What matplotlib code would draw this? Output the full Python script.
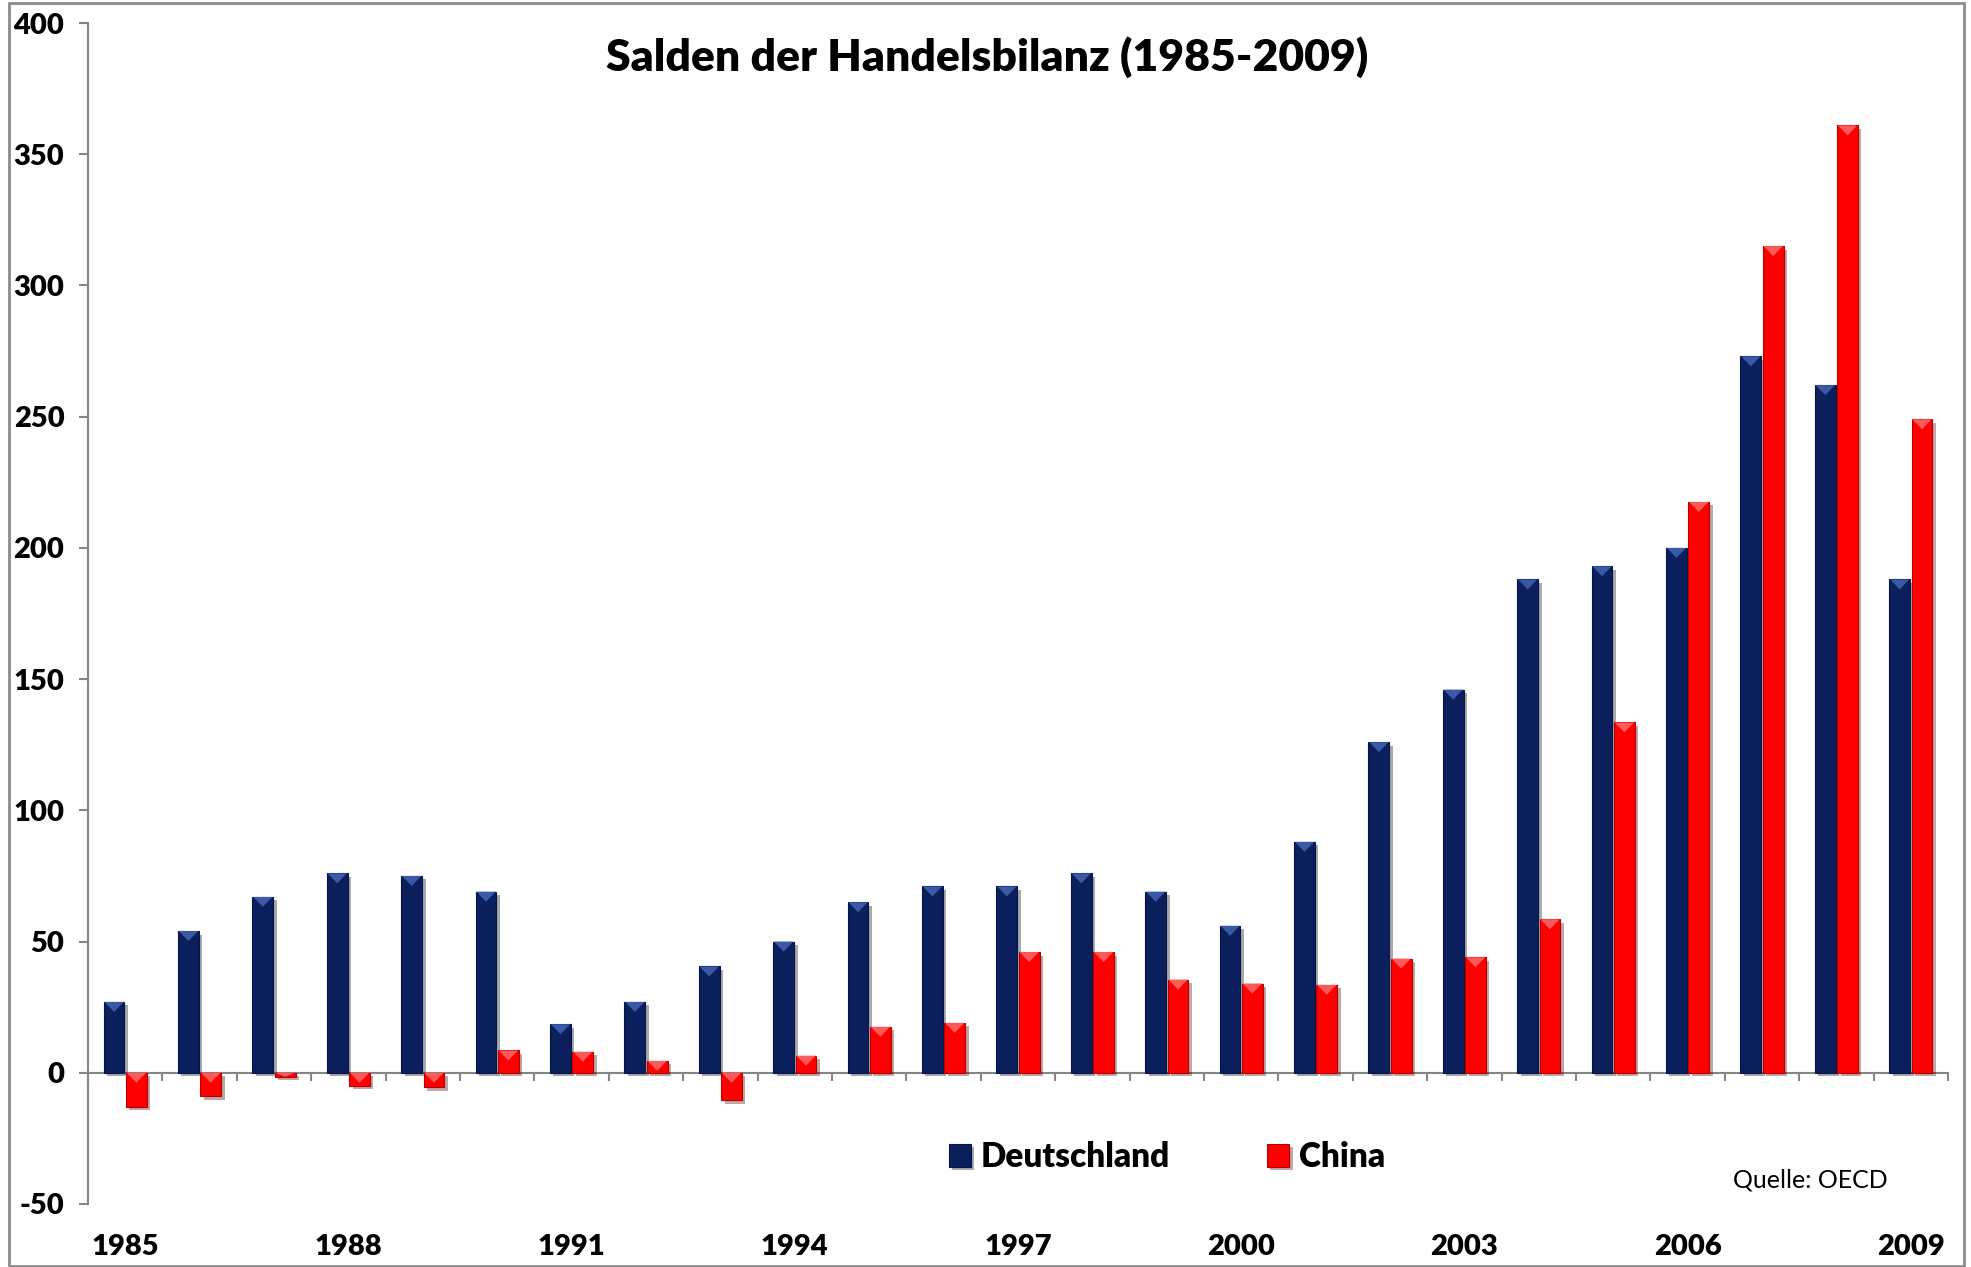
import matplotlib
matplotlib.use("Agg")
import matplotlib.pyplot as plt
import matplotlib.patheffects as pe
from matplotlib.patches import Polygon, Rectangle
from matplotlib.transforms import blended_transform_factory
import numpy as np

years = list(range(1985, 2010))
deutschland = [27, 54, 67, 76, 75, 69, 18.5, 27, 40.5, 50, 65, 71, 71, 76, 69,
               56, 88, 126, 146, 188, 193, 200, 273, 262, 188]
china = [-13, -9, -1.5, -5, -5.5, 8.5, 8, 4.5, -10.5, 6.5, 17.5, 19, 46, 46,
         35.5, 34, 33.5, 43.5, 44, 58.5, 133.5, 217.5, 315, 361, 249]
tick_years = [1985, 1988, 1991, 1994, 1997, 2000, 2003, 2006, 2009]
yticks = [-50, 0, 50, 100, 150, 200, 250, 300, 350, 400]
series_names = ["Deutschland", "China"]
title = "Salden der Handelsbilanz (1985-2009)"
source = "Quelle: OECD"

plt.rcParams["font.family"] = ["Lato", "DejaVu Sans"]
BOLD = "heavy"

W, H = 1971, 1267
fig = plt.figure(figsize=(W / 100, H / 100), dpi=100)
ax = fig.add_axes([88 / W, 1 - 1204 / H, (1948 - 88) / W, (1204 - 23) / H])

x = np.arange(len(years))
w = 0.28
gap = 0.01
shadow = [pe.SimplePatchShadow(offset=(2.5, -2.5), alpha=0.35), pe.Normal()]
b1 = ax.bar(x - w / 2 - gap, deutschland, w, color="#0B1F5C", edgecolor="#061543",
            linewidth=0.8, label=series_names[0], path_effects=shadow, zorder=3)
b2 = ax.bar(x + w / 2 + gap, china, w, color="#FF0000", edgecolor="#B30000",
            linewidth=0.8, label=series_names[1], path_effects=shadow, zorder=3)

# bevel highlight at the top of each bar
for bars, hl in ((b1, "#3A5AA8"), (b2, "#FF5A5A")):
    for r in bars:
        y0 = r.get_y()
        y1 = y0 + r.get_height()
        top, bot = max(y0, y1), min(y0, y1)
        h = min(3.8, top - bot)
        x0, bw = r.get_x(), r.get_width()
        ax.add_patch(Polygon([(x0 + 0.01, top), (x0 + bw - 0.01, top), (x0 + bw / 2, top - h)],
                             closed=True, facecolor=hl, edgecolor="none", zorder=4))

ax.set_xlim(-0.5, len(years) - 0.5)
ax.set_ylim(yticks[0], yticks[-1])

gray = "#868686"
for s in ("top", "right"):
    ax.spines[s].set_visible(False)
ax.spines["left"].set_color(gray)
ax.spines["left"].set_linewidth(1.5)
ax.spines["bottom"].set_position(("data", 0))
ax.spines["bottom"].set_color(gray)
ax.spines["bottom"].set_linewidth(1.5)

ax.set_xticks(np.arange(len(years) + 1) - 0.5)
ax.set_xticklabels([])
ax.tick_params(axis="x", direction="out", length=6, width=1.5, color=gray)

ax.set_yticks(yticks)
ax.set_yticklabels([str(v) for v in yticks], fontsize=21, fontweight=BOLD)
ax.tick_params(axis="y", direction="out", length=6.5, width=1.5, color=gray, pad=10.5)

trans = blended_transform_factory(ax.transData, ax.transAxes)
for ty in tick_years:
    ax.text(years.index(ty), -0.0364, str(ty), transform=trans, ha="center", va="center",
            fontsize=21, fontweight=BOLD)

fig.text(987 / W, 1 - 57 / H, title, ha="center", va="center", fontsize=32, fontweight=BOLD)
fig.text(1810 / W, 1 - 1180 / H, source, ha="center", va="center", fontsize=18)

fig.legend(handles=[b1, b2], labels=series_names, loc="center",
           bbox_to_anchor=(1167 / W, 1 - 1157 / H), ncol=2, frameon=False,
           prop={"size": 24, "weight": BOLD}, handlelength=0.67, handleheight=0.67,
           handletextpad=0.3, columnspacing=2.9)

fig.add_artist(Rectangle((9 / W, 1 / H), (1964 - 9) / W, (1264 - 1) / H, transform=fig.transFigure,
                         fill=False, edgecolor="#8C8C8C", linewidth=2))

fig.savefig("out.png", dpi=100)
